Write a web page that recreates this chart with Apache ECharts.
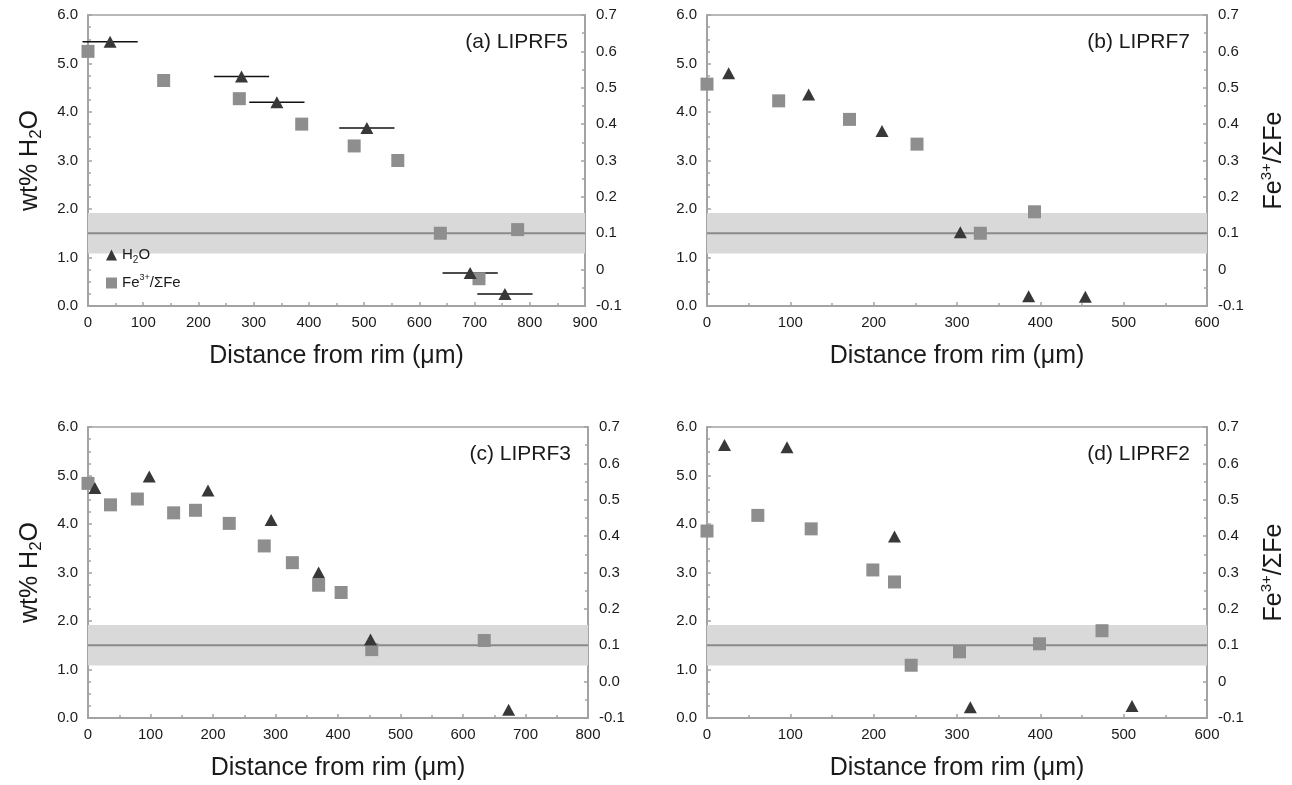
<!DOCTYPE html>
<html>
<head>
<meta charset="utf-8">
<script src="https://cdn.jsdelivr.net/npm/echarts@6/dist/echarts.min.js"></script>
<style>
  html, body { margin: 0; padding: 0; background: #ffffff; }
  #chart { width: 1292px; height: 785px; }
</style>
</head>
<body>
<div id="chart"></div>
<script>
// ---- Data: distance from rim (µm), wt% H2O and Fe3+/ΣFe for four crystals ----

// (a) LIPRF5
const distH2O_a = [40, 278, 342, 505, 692, 755];
const h2o_a     = [5.45, 4.73, 4.20, 3.67, 0.68, 0.25];
const errDist_a = [50, 50, 50, 50, 50, 50];
const distFe_a  = [0, 137, 274, 387, 482, 561, 638, 708, 778];
const fe_a      = [0.60, 0.52, 0.47, 0.40, 0.34, 0.30, 0.10, -0.025, 0.11];

// (b) LIPRF7
const distH2O_b = [26, 122, 210, 304, 386, 454];
const h2o_b     = [4.80, 4.36, 3.61, 1.52, 0.20, 0.19];
const distFe_b  = [0, 86, 171, 252, 328, 393];
const fe_b      = [0.51, 0.464, 0.413, 0.345, 0.10, 0.159];

// (c) LIPRF3
const distH2O_c = [11, 98, 192, 293, 369, 452, 673];
const h2o_c     = [4.74, 4.98, 4.69, 4.08, 3.00, 1.62, 0.17];
const distFe_c  = [0, 36, 79, 137, 172, 226, 282, 327, 369, 405, 454, 634];
const fe_c      = [0.545, 0.486, 0.502, 0.464, 0.471, 0.435, 0.373, 0.327, 0.265, 0.245, 0.088, 0.113];

// (d) LIPRF2
const distH2O_d = [21, 96, 225, 316, 510];
const h2o_d     = [5.63, 5.58, 3.74, 0.22, 0.25];
const distFe_d  = [0, 61, 125, 199, 225, 245, 303, 399, 474];
const fe_d      = [0.414, 0.457, 0.42, 0.307, 0.274, 0.045, 0.082, 0.104, 0.14];

// Reference band (wt% H2O): low, high, centre line
const bandH2O = [1.08, 1.92, 1.5];

// Axis ranges and tick steps
const h2oAxis  = { min: 0, max: 6, interval: 1 };
const feAxis   = { min: -0.1, max: 0.7, interval: 0.1 };
const xMaxes   = [900, 600, 800, 600];
const xStep    = 100;

const panelLabels = ['(a) LIPRF5', '(b) LIPRF7', '(c) LIPRF3', '(d) LIPRF2'];
const feZeroLabels = ['0', '0', '0.0', '0'];

const panels = [
  { dh: distH2O_a, h: h2o_a, err: errDist_a, df: distFe_a, f: fe_a },
  { dh: distH2O_b, h: h2o_b, df: distFe_b, f: fe_b },
  { dh: distH2O_c, h: h2o_c, df: distFe_c, f: fe_c },
  { dh: distH2O_d, h: h2o_d, df: distFe_d, f: fe_d }
];

// ---- Layout & style ----
const FONT = 'Liberation Sans, Arial, Helvetica, sans-serif';
const TEXT = '#1a1a1a';
const AXIS = '#a3a3a3';
const gridRects = [
  { left: 88,  top: 15,  width: 497, height: 291 },
  { left: 707, top: 15,  width: 500, height: 291 },
  { left: 88,  top: 427, width: 500, height: 291 },
  { left: 707, top: 427, width: 500, height: 291 }
];

const titleRich = {
  sub: { fontSize: 17, lineHeight: 17, verticalAlign: 'bottom', fontFamily: FONT, color: TEXT },
  sup: { fontSize: 15, lineHeight: 15, verticalAlign: 'top', fontFamily: FONT, color: TEXT }
};

const grids = [], xAxes = [], yAxes = [], series = [], graphics = [];

panels.forEach((p, i) => {
  const g = gridRects[i];
  const isLeft = (i % 2 === 0);
  grids.push(Object.assign({ show: true, borderColor: AXIS, borderWidth: 1.5, backgroundColor: 'transparent' }, g));

  const axisCommon = {
    axisLine: { show: true, lineStyle: { color: AXIS, width: 2 } },
    axisTick: { show: true, inside: true, length: 4, lineStyle: { color: AXIS, width: 1.5 } },
    minorTick: { show: true, length: 3, lineStyle: { color: AXIS, width: 1.5 } },
    splitLine: { show: false },
    axisLabel: { color: TEXT, fontSize: 15, fontFamily: FONT }
  };

  xAxes.push(Object.assign({}, axisCommon, {
    type: 'value', gridIndex: i, min: 0, max: xMaxes[i], interval: xStep,
    minorTick: Object.assign({}, axisCommon.minorTick, { splitNumber: 2 }),
    axisLabel: Object.assign({}, axisCommon.axisLabel, { margin: 9 }),
    name: 'Distance from rim (μm)', nameLocation: 'middle', nameGap: 38,
    nameTextStyle: { color: TEXT, fontSize: 25, fontFamily: FONT }
  }));

  // left axis: wt% H2O
  yAxes.push(Object.assign({}, axisCommon, {
    type: 'value', gridIndex: i, position: 'left',
    min: h2oAxis.min, max: h2oAxis.max, interval: h2oAxis.interval,
    minorTick: Object.assign({}, axisCommon.minorTick, { splitNumber: 4 }),
    axisLabel: Object.assign({}, axisCommon.axisLabel, { margin: 10, formatter: v => v.toFixed(1) }),
    name: isLeft ? 'wt% H{sub|2}O' : '', nameLocation: 'middle', nameRotate: 90, nameGap: 43,
    nameTextStyle: { color: TEXT, fontSize: 25, lineHeight: 30, fontFamily: FONT, rich: titleRich }
  }));

  // right axis: Fe3+/ΣFe
  yAxes.push(Object.assign({}, axisCommon, {
    type: 'value', gridIndex: i, position: 'right',
    min: feAxis.min, max: feAxis.max, interval: feAxis.interval,
    minorTick: Object.assign({}, axisCommon.minorTick, { splitNumber: 2 }),
    axisLabel: Object.assign({}, axisCommon.axisLabel, {
      margin: 11,
      formatter: v => (Math.abs(v) < 1e-9 ? feZeroLabels[i] : v.toFixed(1))
    }),
    name: isLeft ? '' : 'Fe{sup|3+}/ΣFe', nameLocation: 'middle', nameRotate: 90, nameGap: 52,
    nameTextStyle: { color: TEXT, fontSize: 25, lineHeight: 30, fontFamily: FONT, rich: titleRich }
  }));

  const yLeft = i * 2, yRight = i * 2 + 1;

  // grey reference band and centre line
  series.push({
    type: 'custom', xAxisIndex: i, yAxisIndex: yLeft, silent: true, z: 1,
    data: [bandH2O],
    renderItem: (params, api) => {
      const cs = params.coordSys;
      const yHi = api.coord([0, api.value(1)])[1];
      const yLo = api.coord([0, api.value(0)])[1];
      const yMid = api.coord([0, api.value(2)])[1];
      return {
        type: 'group',
        children: [
          { type: 'rect', shape: { x: cs.x, y: yHi, width: cs.width, height: yLo - yHi },
            style: { fill: '#d9d9d9' } },
          { type: 'line', shape: { x1: cs.x, y1: yMid, x2: cs.x + cs.width, y2: yMid },
            style: { stroke: '#8a8a8a', lineWidth: 2 } }
        ]
      };
    }
  });

  // horizontal error bars on H2O points
  if (p.err) {
    series.push({
      type: 'custom', xAxisIndex: i, yAxisIndex: yLeft, silent: true, z: 3, clip: false,
      data: p.dh.map((d, k) => [d, p.h[k], p.err[k]]),
      encode: { x: 0, y: 1 },
      renderItem: (params, api) => {
        const x = api.value(0), y = api.value(1), e = api.value(2);
        const a = api.coord([x - e, y]), b = api.coord([x + e, y]);
        return { type: 'line', shape: { x1: a[0], y1: a[1], x2: b[0], y2: b[1] },
                 style: { stroke: '#111111', lineWidth: 1.5 } };
      }
    });
  }

  series.push({
    name: 'Fe', type: 'scatter', xAxisIndex: i, yAxisIndex: yRight, z: 4,
    symbol: 'rect', symbolSize: 13,
    itemStyle: { color: '#8e8e8e', opacity: 1 },
    data: p.df.map((d, k) => [d, p.f[k]])
  });

  series.push({
    name: 'H2O', type: 'scatter', xAxisIndex: i, yAxisIndex: yLeft, z: 5,
    symbol: 'triangle', symbolSize: [13, 12],
    itemStyle: { color: '#383838', opacity: 1 },
    data: p.dh.map((d, k) => [d, p.h[k]])
  });

  graphics.push({
    type: 'text', right: 1292 - (g.left + g.width) + 17, top: g.top + 17,
    style: { text: panelLabels[i], fill: TEXT, font: '21px ' + FONT }
  });
});

const chart = echarts.init(document.getElementById('chart'), null, { renderer: 'canvas' });
chart.setOption({
  backgroundColor: '#ffffff',
  animation: false,
  grid: grids,
  xAxis: xAxes,
  yAxis: yAxes,
  series: series,
  graphic: graphics,
  legend: {
    left: 101, top: 240, orient: 'vertical', itemGap: 8,
    itemWidth: 11, itemHeight: 11, selectedMode: false,
    data: [{ name: 'H2O', icon: 'triangle' }, { name: 'Fe', icon: 'rect' }],
    formatter: n => (n === 'H2O' ? 'H{sub|2}O' : 'Fe{sup|3+}/ΣFe'),
    textStyle: {
      color: TEXT, fontSize: 15, lineHeight: 20, fontFamily: FONT,
      rich: {
        sub: { fontSize: 10, lineHeight: 12, verticalAlign: 'bottom', color: TEXT, fontFamily: FONT },
        sup: { fontSize: 9, lineHeight: 10, verticalAlign: 'top', color: TEXT, fontFamily: FONT }
      }
    }
  }
});
</script>
</body>
</html>
